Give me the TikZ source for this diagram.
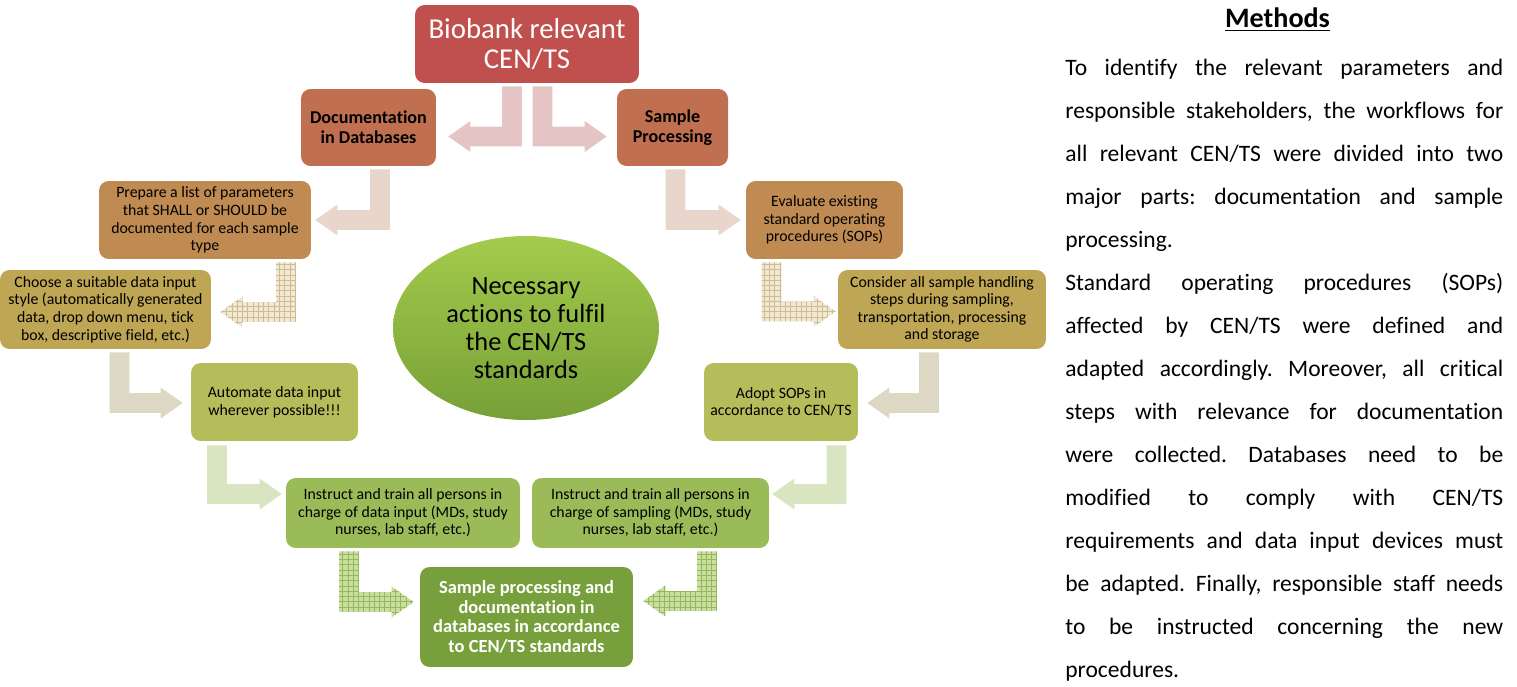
\documentclass[tikz,border=0pt]{standalone}
\usepackage{fontspec}
\setmainfont{Carlito}[Ligatures=NoCommon]
\usepackage{tikz}
\usetikzlibrary{shapes.geometric,patterns,calc}
\frenchspacing

\definecolor{topred}{RGB}{192,80,77}
\definecolor{rust}{RGB}{192,112,80}
\definecolor{ochre}{RGB}{191,139,82}
\definecolor{gold}{RGB}{190,166,84}
\definecolor{olive}{RGB}{181,188,90}
\definecolor{leaf}{RGB}{155,187,89}
\definecolor{moss}{RGB}{119,160,60}
\definecolor{pinkarr}{RGB}{229,196,196}
\definecolor{sandarr}{RGB}{232,213,204}
\definecolor{greyarr}{RGB}{221,216,195}
\definecolor{greenarr}{RGB}{217,228,192}
\definecolor{hatchtan}{RGB}{206,188,142}
\definecolor{hatchtanbg}{RGB}{240,232,212}
\definecolor{hatchgreen}{RGB}{150,184,92}
\definecolor{hatchgreenbg}{RGB}{202,222,160}

% bent block arrow: style, top of stem, tip
\newcommand{\bentarrow}[3]{%
  \path[#1] let \p1=(#2), \p2=(#3), \n1={sign(\x2-\x1)} in
    ({\x1-(\n1)*5.67pt},\y1) -- ({\x1+(\n1)*5.67pt},\y1)
    -- ({\x1+(\n1)*5.67pt},{\y2+5.67pt}) -- ({\x2-(\n1)*12.5pt},{\y2+5.67pt})
    -- ({\x2-(\n1)*12.5pt},{\y2+8.8pt}) -- (\x2,\y2)
    -- ({\x2-(\n1)*12.5pt},{\y2-8.8pt}) -- ({\x2-(\n1)*12.5pt},{\y2-5.67pt})
    -- ({\x1-(\n1)*5.67pt},{\y2-5.67pt}) -- cycle;}

\begin{document}
\begin{tikzpicture}[x=0.02cm, y=-0.02cm,
    box/.style={rounded corners=5.5pt, align=center, inner sep=1pt,
      font=\fontsize{9}{10}\selectfont},
    hatchtanarr/.style={fill=hatchtanbg, postaction={pattern=grid, pattern color=hatchtan}},
    hatchgreenarr/.style={fill=hatchgreenbg, postaction={pattern=grid, pattern color=hatchgreen}}]
  \useasboundingbox (0,0) rectangle (1517,686);

  \node[box, fill=topred, text=white, minimum width=4.48cm, minimum height=1.56cm,
    font=\fontsize{16.4}{17.5}\selectfont] (top) at (527,44) {Biobank relevant\\CEN/TS};

  \node[box, fill=rust, minimum width=2.7cm, minimum height=1.54cm,
    font=\fontsize{10.3}{11.5}\selectfont\bfseries] (doc) at (368.5,127.5) {Documentation\\in Databases};
  \node[box, fill=rust, minimum width=2.22cm, minimum height=1.54cm,
    font=\fontsize{10.3}{11.5}\selectfont\bfseries] (proc) at (672.5,127.5) {Sample\\Processing};

  \node[box, fill=ochre, minimum width=4.24cm, minimum height=1.56cm] (prep) at (205,220)
    {Prepare a list of parameters\\that SHALL or SHOULD be\\documented for each sample\\type};
  \node[box, fill=ochre, minimum width=3.14cm, minimum height=1.56cm] (eval) at (824.5,220)
    {Evaluate existing\\standard operating\\procedures (SOPs)};

  \node[box, fill=gold, minimum width=4.22cm, minimum height=1.58cm] (choose) at (105.5,309.5)
    {Choose a suitable data input\\style (automatically generated\\data, drop down menu, tick\\box, descriptive field, etc.)};
  \node[box, fill=gold, minimum width=4.16cm, minimum height=1.58cm] (consider) at (942,309.5)
    {Consider all sample handling\\steps during sampling,\\transportation, processing\\and storage};

  \node[box, fill=olive, minimum width=3.34cm, minimum height=1.56cm] (auto) at (274.5,402)
    {Automate data input\\wherever possible!!!};
  \node[box, fill=olive, minimum width=3.08cm, minimum height=1.56cm] (adopt) at (781,402)
    {Adopt SOPs in\\accordance to CEN/TS};

  \node[box, fill=leaf, minimum width=4.68cm, minimum height=1.4cm] (instL) at (403,513)
    {Instruct and train all persons in\\charge of data input (MDs, study\\nurses, lab staff, etc.)};
  \node[box, fill=leaf, minimum width=4.74cm, minimum height=1.4cm] (instR) at (650.5,513)
    {Instruct and train all persons in\\charge of sampling (MDs, study\\nurses, lab staff, etc.)};

  \node[box, fill=moss, text=white, minimum width=4.26cm, minimum height=2cm,
    font=\fontsize{10.5}{11.3}\selectfont\bfseries] (final) at (526.5,617)
    {Sample processing and\\documentation in\\databases in accordance\\to CEN/TS standards};

  \node[ellipse, inner sep=0pt, minimum width=5.32cm, minimum height=3.68cm,
    top color={rgb,255:red,164;green,203;blue,76}, bottom color={rgb,255:red,118;green,160;blue,55},
    align=center, font=\fontsize{15}{16}\selectfont] (goal) at (526,328)
    {Necessary\\actions to fulfil\\the CEN/TS\\standards};

  % arrows
  \bentarrow{fill=pinkarr}{$(top.south)+(-15,3)$}{$(doc.east)+(12,9)$}
  \bentarrow{fill=pinkarr}{$(top.south)+(15.5,3)$}{$(proc.west)+(-10,9)$}
  \bentarrow{fill=sandarr}{$(doc.south)+(11.5,3)$}{$(prep.east)+(4,0)$}
  \bentarrow{fill=sandarr}{$(proc.south)+(3,3)$}{$(eval.west)+(-5,0)$}
  \bentarrow{hatchtanarr}{$(prep.south)+(81,3)$}{$(choose.east)+(9,2.5)$}
  \bentarrow{hatchtanarr}{$(eval.south)+(-53,3)$}{$(consider.west)+(-2,2)$}
  \bentarrow{fill=greyarr}{$(choose.south)+(14,3)$}{$(auto.west)+(-8,1)$}
  \bentarrow{fill=greyarr}{$(consider.south)+(-13,3)$}{$(adopt.east)+(9,1)$}
  \bentarrow{fill=greenarr}{$(auto.south)+(-57.5,4)$}{$(instL.west)+(-4,-19)$}
  \bentarrow{fill=greenarr}{$(adopt.south)+(55.5,4)$}{$(instR.east)+(3,-19)$}
  \bentarrow{hatchgreenarr}{$(instL.south)+(-54,3)$}{$(final.west)+(-6,-15)$}
  \bentarrow{hatchgreenarr}{$(instR.south)+(56.5,3)$}{$(final.east)+(10,-16)$}

  % methods text
  \node[anchor=base, font=\fontsize{16}{18}\selectfont\bfseries] (title) at (1277.5,28) {\underline{Methods}};
  \node[anchor=north west, inner sep=0pt, text width=8.76cm, align=justify,
    font=\fontsize{13.4}{24.5}\selectfont] (body) at (1065,58.5)
    {\tolerance=10000\hyphenpenalty=10000
    To identify the relevant parameters and\linebreak
    responsible stakeholders, the workflows for\linebreak
    all relevant CEN/TS were divided into two\linebreak
    major parts: documentation and sample\linebreak
    processing.\par
    Standard operating procedures (SOPs)\linebreak
    affected by CEN/TS were defined and\linebreak
    adapted accordingly. Moreover, all critical\linebreak
    steps with relevance for documentation\linebreak
    were collected. Databases need to be\linebreak
    modified to comply with CEN/TS\linebreak
    requirements and data input devices must\linebreak
    be adapted. Finally, responsible staff needs\linebreak
    to be instructed concerning the new\linebreak
    procedures.};
\end{tikzpicture}
\end{document}
